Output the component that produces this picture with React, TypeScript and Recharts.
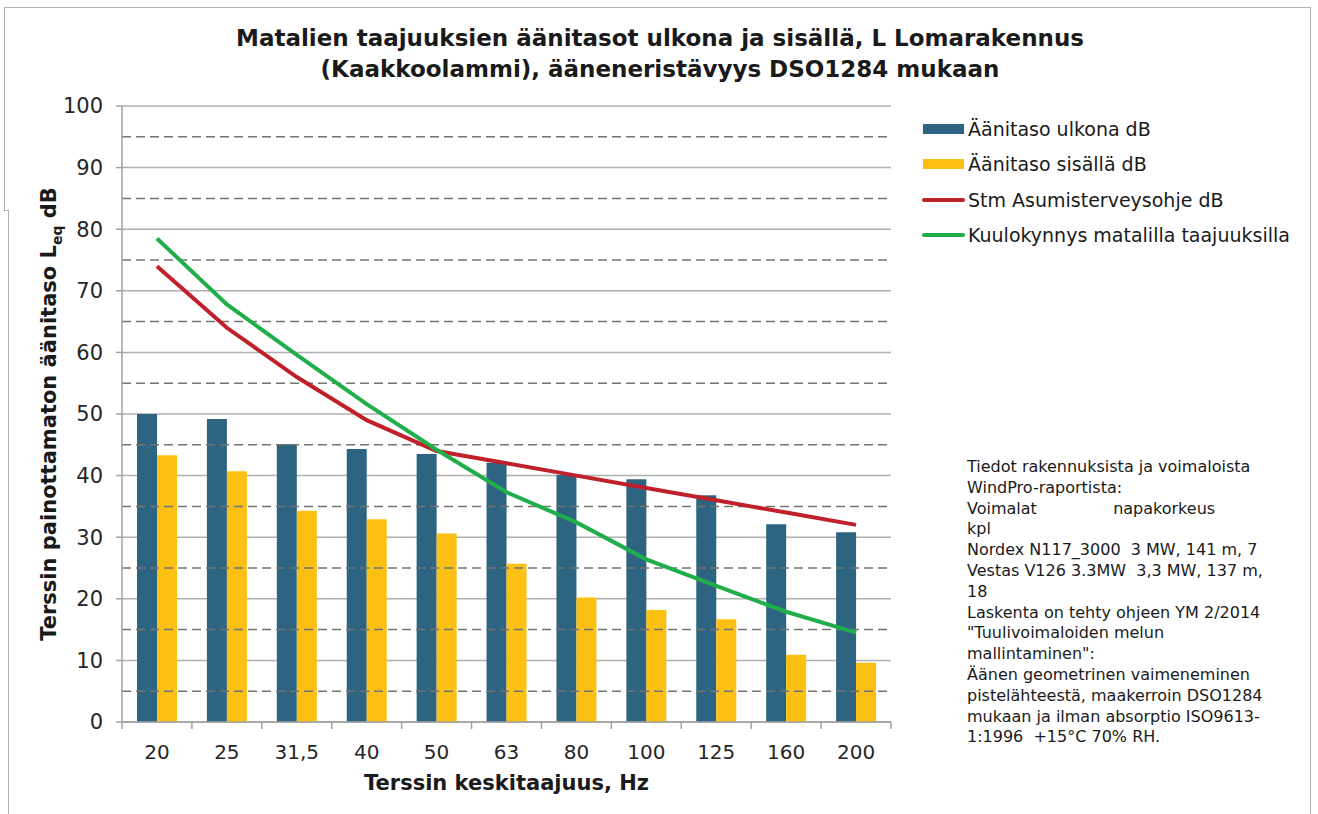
import {
  Bar,
  CartesianGrid,
  ComposedChart,
  Line,
  ReferenceLine,
  XAxis,
  YAxis,
} from 'recharts'

const frequencies = ['20', '25', '31,5', '40', '50', '63', '80', '100', '125', '160', '200']
const outdoorLevels = [50.0, 49.2, 45.1, 44.3, 43.5, 42.1, 40.1, 39.4, 36.8, 32.1, 30.8]
const indoorLevels = [43.3, 40.7, 34.3, 32.9, 30.6, 25.7, 20.2, 18.2, 16.7, 10.9, 9.6]
const stmGuideline = [74, 64, 56, 49, 44, 42, 40, 38, 36, 34, 32]
const hearingThreshold = [78.5, 67.8, 59.6, 51.6, 44.2, 37.3, 32.4, 26.4, 22.1, 17.9, 14.5]
const yTicks = [0, 10, 20, 30, 40, 50, 60, 70, 80, 90, 100]
const dashedLevels = [5, 15, 25, 35, 45, 55, 65, 75, 85, 95]

const seriesNames = [
  'Äänitaso ulkona dB',
  'Äänitaso sisällä dB',
  'Stm Asumisterveysohje dB',
  'Kuulokynnys matalilla taajuuksilla',
]

const noteLines = [
  'Tiedot rakennuksista ja voimaloista',
  'WindPro-raportista:',
  'Voimalat               napakorkeus',
  'kpl',
  'Nordex N117_3000  3 MW, 141 m, 7',
  'Vestas V126 3.3MW  3,3 MW, 137 m,',
  '18',
  'Laskenta on tehty ohjeen YM 2/2014',
  '"Tuulivoimaloiden melun',
  'mallintaminen":',
  'Äänen geometrinen vaimeneminen',
  'pistelähteestä, maakerroin DSO1284',
  'mukaan ja ilman absorptio ISO9613-',
  '1:1996  +15°C 70% RH.',
]

const data = frequencies.map((f, i) => ({
  freq: f,
  outdoor: outdoorLevels[i],
  indoor: indoorLevels[i],
  stm: stmGuideline[i],
  threshold: hearingThreshold[i],
}))

const COLORS = {
  outdoor: '#2d6482',
  indoor: '#fbc012',
  stm: '#c0202a',
  threshold: '#1fae4a',
}

const FONT = '"DejaVu Sans", Verdana, sans-serif'
const PLOT_LEFT = 122
const PLOT_RIGHT = 891
const PLOT_TOP = 106
const PLOT_BOTTOM = 722
const BAND = (PLOT_RIGHT - PLOT_LEFT) / frequencies.length

function FreqTick(props: any) {
  const { x, payload, index } = props
  const last = index === frequencies.length - 1
  return (
    <g>
      <line x1={x - BAND / 2} x2={x - BAND / 2} y1={PLOT_BOTTOM} y2={PLOT_BOTTOM + 7} stroke="#a0a0a0" strokeWidth={1.5} />
      {last && (
        <line x1={x + BAND / 2} x2={x + BAND / 2} y1={PLOT_BOTTOM} y2={PLOT_BOTTOM + 7} stroke="#a0a0a0" strokeWidth={1.5} />
      )}
      <text x={x} y={PLOT_BOTTOM + 37} textAnchor="middle" fill="#262626" fontSize={20} fontFamily={FONT}>
        {payload.value}
      </text>
    </g>
  )
}

function YLabel() {
  return (
    <text
      transform="translate(56, 414) rotate(-90)"
      textAnchor="middle"
      fill="#1a1a1a"
      fontSize={21}
      fontWeight="bold"
      fontFamily={FONT}
    >
      Terssin painottamaton äänitaso L
      <tspan fontSize={14} dy={6}>eq</tspan>
      <tspan dy={-6}> dB</tspan>
    </text>
  )
}

const legendItems = [
  { name: seriesNames[0], color: COLORS.outdoor, kind: 'rect' },
  { name: seriesNames[1], color: COLORS.indoor, kind: 'rect' },
  { name: seriesNames[2], color: COLORS.stm, kind: 'line' },
  { name: seriesNames[3], color: COLORS.threshold, kind: 'line' },
]

export default function App() {
  return (
    <div style={{ position: 'absolute', left: 0, top: 0, width: 1318, height: 814, background: '#fff', fontFamily: FONT, overflow: 'hidden' }}>
      {/* outer frame */}
      <div style={{ position: 'absolute', left: 4, top: 7, width: 1306, height: 0, borderTop: '1px solid #b0b0b0' }} />
      <div style={{ position: 'absolute', left: 1310, top: 7, width: 0, height: 820, borderLeft: '1px solid #b0b0b0' }} />
      <div style={{ position: 'absolute', left: 4, top: 7, width: 0, height: 203, borderLeft: '1px solid #b0b0b0' }} />
      <div style={{ position: 'absolute', left: 4, top: 210, width: 4, height: 0, borderTop: '1px solid #b0b0b0' }} />
      <div style={{ position: 'absolute', left: 8, top: 210, width: 0, height: 610, borderLeft: '1px solid #b0b0b0' }} />

      <div
        style={{
          position: 'absolute',
          left: 110,
          width: 1100,
          top: 23,
          textAlign: 'center',
          fontSize: 23,
          fontWeight: 'bold',
          lineHeight: '31px',
          color: '#1a1a1a',
        }}
      >
        Matalien taajuuksien äänitasot ulkona ja sisällä, L Lomarakennus
        <br />
        (Kaakkoolammi), ääneneristävyys DSO1284 mukaan
      </div>

      <ComposedChart
        width={1318}
        height={814}
        data={data}
        margin={{ top: PLOT_TOP, right: 1318 - PLOT_RIGHT, left: PLOT_LEFT - 60, bottom: 814 - PLOT_BOTTOM - 50 }}
        barGap={0}
        style={{ position: 'absolute', left: 0, top: 0 }}
      >
        <CartesianGrid vertical={false} stroke="#b0b0b0" strokeWidth={1.5} />
        {dashedLevels.map((v) => (
          <ReferenceLine key={v} y={v} stroke="#737373" strokeWidth={1.5} strokeDasharray="9 5" />
        ))}
        <XAxis
          dataKey="freq"
          height={50}
          axisLine={{ stroke: '#a0a0a0', strokeWidth: 1.5 }}
          tickLine={false}
          tick={<FreqTick />}
          interval={0}
          label={{
            value: 'Terssin keskitaajuus, Hz',
            position: 'insideBottom',
            offset: -18,
            fill: '#1a1a1a',
            fontSize: 21,
            fontWeight: 'bold',
            fontFamily: FONT,
          }}
        />
        <YAxis
          width={60}
          domain={[0, 100]}
          ticks={yTicks}
          interval={0}
          axisLine={{ stroke: '#a0a0a0', strokeWidth: 1.5 }}
          tickLine={{ stroke: '#a0a0a0', strokeWidth: 1.5 }}
          tickSize={6}
          tickMargin={13}
          tick={{ fill: '#262626', fontSize: 21, fontFamily: FONT }}
          label={{ content: () => <YLabel /> }}
        />
        <Bar dataKey="outdoor" name={seriesNames[0]} fill={COLORS.outdoor} barSize={20} isAnimationActive={false} />
        <Bar dataKey="indoor" name={seriesNames[1]} fill={COLORS.indoor} barSize={20} isAnimationActive={false} />
        <Line
          type="linear"
          dataKey="stm"
          name={seriesNames[2]}
          stroke={COLORS.stm}
          strokeWidth={4}
          dot={false}
          activeDot={false}
          isAnimationActive={false}
        />
        <Line
          type="linear"
          dataKey="threshold"
          name={seriesNames[3]}
          stroke={COLORS.threshold}
          strokeWidth={4}
          dot={false}
          activeDot={false}
          isAnimationActive={false}
        />
      </ComposedChart>

      {/* legend */}
      <div style={{ position: 'absolute', left: 921, top: 111 }}>
        {legendItems.map((item) => (
          <div key={item.name} style={{ display: 'flex', alignItems: 'center', height: 35.5 }}>
            <div style={{ width: 44, display: 'flex', justifyContent: 'center' }}>
              {item.kind === 'rect' ? (
                <div style={{ width: 41, height: 10, background: item.color }} />
              ) : (
                <div style={{ width: 43, height: 4, borderRadius: 2, background: item.color }} />
              )}
            </div>
            <span style={{ marginLeft: 3, fontSize: 19, color: '#1a1a1a', whiteSpace: 'nowrap' }}>{item.name}</span>
          </div>
        ))}
      </div>

      {/* note */}
      <div
        style={{
          position: 'absolute',
          left: 967,
          top: 457,
          fontSize: 16,
          lineHeight: '20.8px',
          color: '#1a1a1a',
          whiteSpace: 'pre',
        }}
      >
        {noteLines.join('\n')}
      </div>
    </div>
  )
}
